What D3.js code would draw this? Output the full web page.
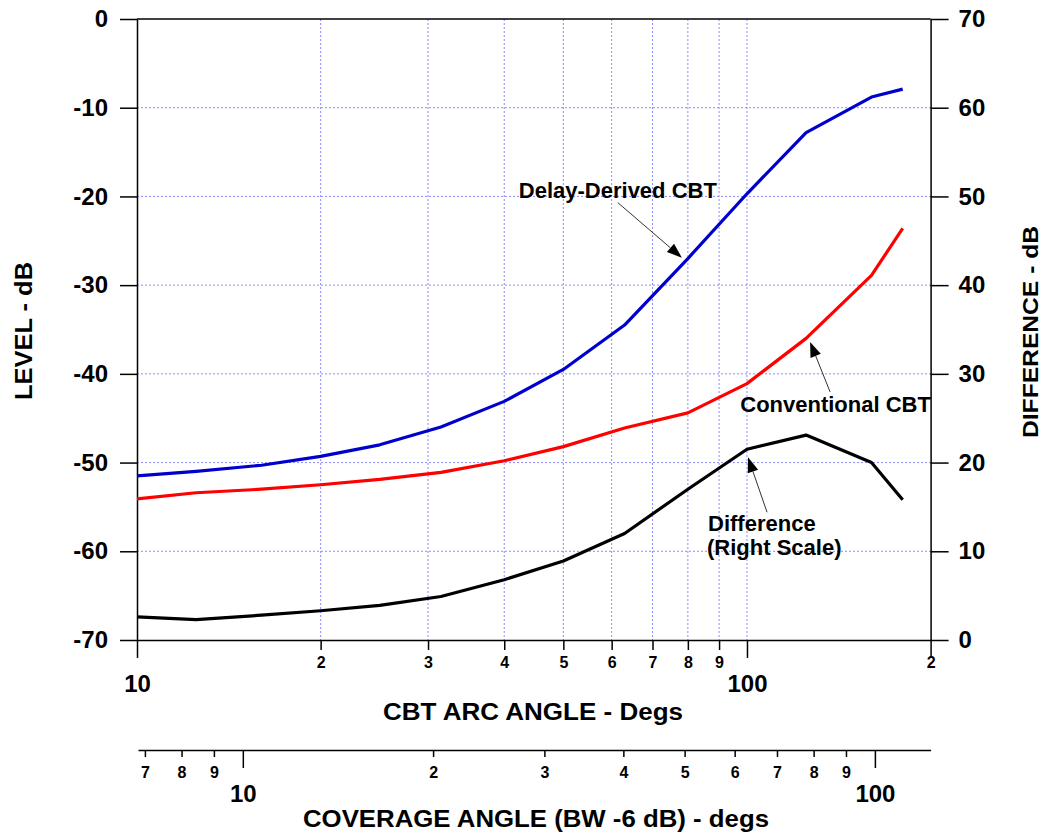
<!DOCTYPE html>
<html><head><meta charset="utf-8">
<script src="https://cdn.jsdelivr.net/npm/d3@7"></script>
<style>
body{margin:0;background:#fff}
svg{display:block}
text{font-family:"Liberation Sans",Arial,sans-serif;font-weight:bold;fill:#000}
</style>
</head><body>
<svg id="c" width="1042" height="836"></svg>
<script>
// ---- data ----
const arcAngles    = [10, 12.5, 16, 20, 25, 31.5, 40, 50, 63, 80, 100, 125, 160, 180];
const delayDerived = [-51.5, -51.0, -50.3, -49.3, -48.0, -46.0, -43.1, -39.5, -34.5, -27.0, -19.7, -12.8, -8.8, -7.9];
const conventional = [-54.1, -53.4, -53.0, -52.5, -51.9, -51.1, -49.8, -48.2, -46.1, -44.4, -41.1, -36.0, -28.9, -23.6];
const difference   = [2.6, 2.3, 2.8, 3.3, 3.9, 4.9, 6.8, 8.9, 12.0, 17.0, 21.5, 23.1, 20.0, 15.8];

const levelTicks    = [0, -10, -20, -30, -40, -50, -60, -70];
const diffTicks     = [0, 10, 20, 30, 40, 50, 60, 70];
const arcTicks      = [10, 20, 30, 40, 50, 60, 70, 80, 90, 100, 200];
const arcTickLabels = ["10", "2", "3", "4", "5", "6", "7", "8", "9", "100", "2"];
const arcGrid       = [20, 30, 40, 50, 60, 70, 80, 90, 100];
const covTicks      = [7, 8, 9, 10, 20, 30, 40, 50, 60, 70, 80, 90, 100];
const covTickLabels = ["7", "8", "9", "10", "2", "3", "4", "5", "6", "7", "8", "9", "100"];

const titles = {
  left: "LEVEL - dB",
  right: "DIFFERENCE - dB",
  bottom: "CBT ARC ANGLE - Degs",
  coverage: "COVERAGE ANGLE (BW -6 dB) - degs"
};

// ---- layout ----
const svg = d3.select("#c");
const L = 137, R = 930.6, T = 19, B = 640;
const x  = d3.scaleLog().domain([10, 200]).range([L, R]);
const yL = d3.scaleLinear().domain([-70, 0]).range([B, T]);
const yR = d3.scaleLinear().domain([0, 70]).range([B, T]);
const xc = d3.scaleLog().domain([6.826, 122.5]).range([138, R]);

const gridColor = "#8c8cff";
// grid
svg.append("g").selectAll("line").data(arcGrid).join("line")
  .attr("x1", d => x(d)).attr("x2", d => x(d)).attr("y1", T).attr("y2", B)
  .attr("stroke", gridColor).attr("stroke-width", 1).attr("stroke-dasharray", "2,2");
svg.append("g").selectAll("line").data(levelTicks.filter(d => d !== 0 && d !== -70)).join("line")
  .attr("x1", L).attr("x2", R).attr("y1", d => yL(d)).attr("y2", d => yL(d))
  .attr("stroke", gridColor).attr("stroke-width", 1).attr("stroke-dasharray", "2,2");

// top frame
svg.append("line").attr("x1", L).attr("x2", R).attr("y1", T).attr("y2", T)
  .attr("stroke", "#000").attr("stroke-width", 1.5);

function styleAxis(g) {
  g.select(".domain").attr("stroke", "#000").attr("stroke-width", 1.5);
  g.selectAll(".tick line").attr("stroke", "#000").attr("stroke-width", 1.5);
  g.selectAll("text").attr("font-family", null);
}

// left axis
svg.append("g").attr("transform", `translate(${L},0)`)
  .call(d3.axisLeft(yL).tickValues(levelTicks).tickSize(17).tickSizeOuter(0).tickPadding(12).tickFormat(d => d))
  .call(styleAxis)
  .call(g => g.selectAll("text").attr("font-size", 24));

// right axis
svg.append("g").attr("transform", `translate(${R},0)`)
  .call(d3.axisRight(yR).tickValues(diffTicks).tickSize(18).tickSizeOuter(0).tickPadding(10).tickFormat(d => d))
  .call(styleAxis)
  .call(g => g.selectAll("text").attr("font-size", 24));

// bottom axis (CBT arc angle)
const isMajorArc = d => d === 10 || d === 100 || d === 200;
svg.append("g").attr("transform", `translate(0,${B})`)
  .call(d3.axisBottom(x).tickValues(arcTicks).tickSizeOuter(0)
    .tickFormat((d, i) => arcTickLabels[i]))
  .call(styleAxis)
  .call(g => {
    g.selectAll(".tick line").attr("y2", d => isMajorArc(d) ? 18 : 10);
    g.selectAll(".tick text")
      .attr("dy", null)
      .attr("y", d => (d === 10 || d === 100) ? 52 : 28)
      .attr("font-size", d => (d === 10 || d === 100) ? 24 : 16);
  });

// secondary axis (coverage angle)
const isMajorCov = d => d === 10 || d === 100;
svg.append("g").attr("transform", `translate(0,750)`)
  .call(d3.axisBottom(xc).tickValues(covTicks).tickSizeOuter(0)
    .tickFormat((d, i) => covTickLabels[i]))
  .call(styleAxis)
  .call(g => {
    g.selectAll(".tick line").attr("y2", d => isMajorCov(d) ? 18 : 7);
    g.selectAll(".tick text")
      .attr("dy", null)
      .attr("y", d => isMajorCov(d) ? 52 : 28)
      .attr("font-size", d => isMajorCov(d) ? 24 : 16);
  });

// series
const lineL = d3.line().x(d => x(d[0])).y(d => yL(d[1]));
const lineR = d3.line().x(d => x(d[0])).y(d => yR(d[1]));
const series = [
  {vals: conventional, color: "#ff0000", gen: lineL},
  {vals: delayDerived, color: "#0000cc", gen: lineL},
  {vals: difference,   color: "#000000", gen: lineR}
];
series.forEach(s => {
  svg.append("path")
    .datum(arcAngles.map((a, i) => [a, s.vals[i]]))
    .attr("fill", "none").attr("stroke", s.color).attr("stroke-width", 3.2)
    .attr("stroke-linejoin", "round")
    .attr("d", s.gen);
});

// annotations: tip in data units, tail/text as pixel offsets from tip
const annotations = [
  {tip: [78.2, -26.9], scale: yL, tail: [-64, -55], text: [[-64, -60, "Delay-Derived CBT"]], anchor: "middle"},
  {tip: [126.9, -36.4], scale: yL, tail: [20, 50], text: [[25.5, 70, "Conventional CBT"]], anchor: "middle"},
  {tip: [100.4, 20.6], scale: yR, tail: [19, 55], text: [[-40, 74, "Difference"], [-41, 98, "(Right Scale)"]], anchor: "start"}
];
annotations.forEach(a => {
  const tx = x(a.tip[0]), ty = a.scale(a.tip[1]);
  const sx = tx + a.tail[0], sy = ty + a.tail[1];
  const dx = tx - sx, dy = ty - sy, len = Math.hypot(dx, dy);
  const ux = dx / len, uy = dy / len;
  const hl = 15, hw = 5.5;
  const bx = tx - ux * hl, by = ty - uy * hl;
  svg.append("line").attr("x1", sx).attr("y1", sy).attr("x2", bx).attr("y2", by)
    .attr("stroke", "#333").attr("stroke-width", 1);
  svg.append("path")
    .attr("d", `M${tx},${ty}L${bx - uy * hw},${by + ux * hw}L${bx + uy * hw},${by - ux * hw}Z`)
    .attr("fill", "#000");
  a.text.forEach(t => {
    svg.append("text").attr("x", tx + t[0]).attr("y", ty + t[1])
      .attr("text-anchor", a.anchor).attr("font-size", 22).text(t[2]);
  });
});

// axis titles
svg.append("text").attr("transform", "translate(32,331) rotate(-90)")
  .attr("text-anchor", "middle").attr("font-size", 23)
  .attr("textLength", 138).attr("lengthAdjust", "spacingAndGlyphs").text(titles.left);
svg.append("text").attr("transform", "translate(1038,332) rotate(-90)")
  .attr("text-anchor", "middle").attr("font-size", 22)
  .attr("textLength", 212).attr("lengthAdjust", "spacingAndGlyphs").text(titles.right);
svg.append("text").attr("x", 533).attr("y", 720)
  .attr("text-anchor", "middle").attr("font-size", 23)
  .attr("textLength", 300).attr("lengthAdjust", "spacingAndGlyphs").text(titles.bottom);
svg.append("text").attr("x", 536).attr("y", 827)
  .attr("text-anchor", "middle").attr("font-size", 23)
  .attr("textLength", 466).attr("lengthAdjust", "spacingAndGlyphs").text(titles.coverage);
</script>
</body></html>
